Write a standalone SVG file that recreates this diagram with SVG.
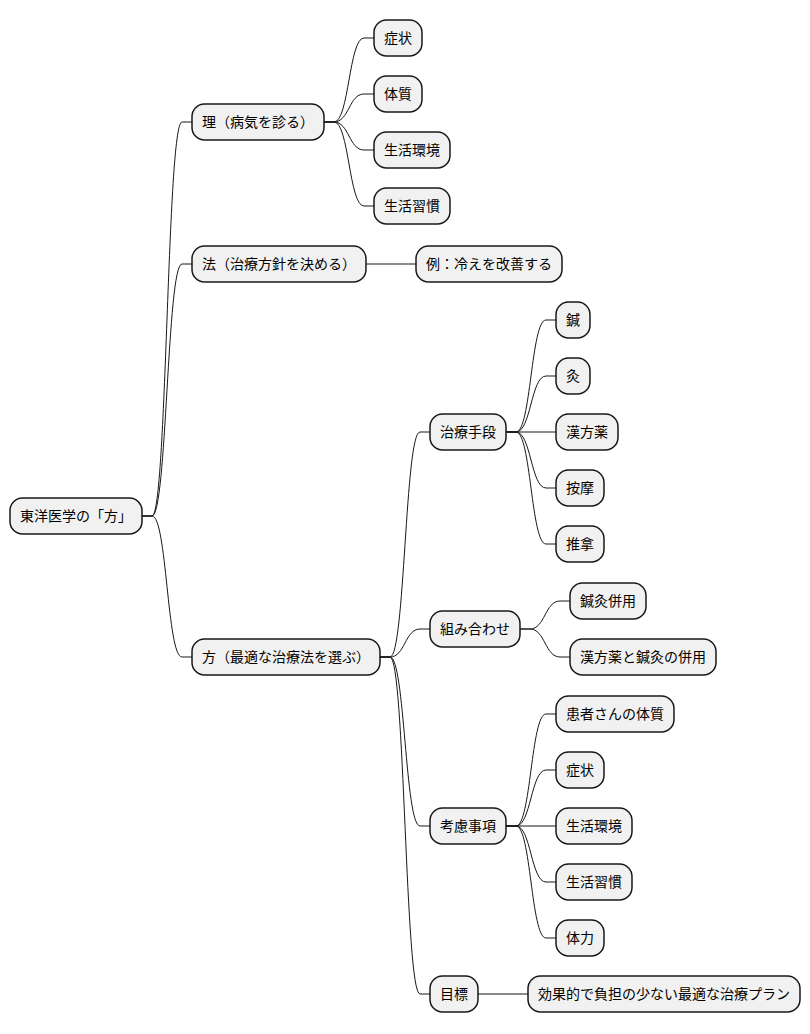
<svg xmlns="http://www.w3.org/2000/svg" width="810" height="1034" viewBox="0 0 810 1034">
<style>
.n rect{fill:#F1F1F1;stroke:#181818;stroke-width:1.5}
.n text{font-family:"Noto Sans CJK JP","Noto Sans CJK SC",sans-serif;font-size:14px;fill:#000000;text-anchor:middle}
#connectors path{fill:none;stroke:#181818;stroke-width:1}
</style>
<rect width="810" height="1034" fill="#FFFFFF"/>
<g id="connectors">
<path d="M142,516 L152,516 C167,516 167,122 182,122 L192,122"/>
<path d="M142,516 L152,516 C167,516 167,264 182,264 L192,264"/>
<path d="M142,516 L152,516 C167,516 167,657 182,657 L192,657"/>
<path d="M324,122 L334,122 C349,122 349,38 364,38 L374,38"/>
<path d="M324,122 L334,122 C349,122 349,94 364,94 L374,94"/>
<path d="M324,122 L334,122 C349,122 349,150 364,150 L374,150"/>
<path d="M324,122 L334,122 C349,122 349,206 364,206 L374,206"/>
<path d="M366,264 L416,264"/>
<path d="M380,657 L390,657 C405,657 405,432 420,432 L430,432"/>
<path d="M380,657 L390,657 C405,657 405,629 420,629 L430,629"/>
<path d="M380,657 L390,657 C405,657 405,826 420,826 L430,826"/>
<path d="M380,657 L390,657 C405,657 405,994 420,994 L430,994"/>
<path d="M506,432 L516,432 C531,432 531,320 546,320 L556,320"/>
<path d="M506,432 L516,432 C531,432 531,376 546,376 L556,376"/>
<path d="M506,432 L556,432"/>
<path d="M506,432 L516,432 C531,432 531,488 546,488 L556,488"/>
<path d="M506,432 L516,432 C531,432 531,544 546,544 L556,544"/>
<path d="M520,629 L530,629 C545,629 545,601 560,601 L570,601"/>
<path d="M520,629 L530,629 C545,629 545,657 560,657 L570,657"/>
<path d="M506,826 L516,826 C531,826 531,714 546,714 L556,714"/>
<path d="M506,826 L516,826 C531,826 531,770 546,770 L556,770"/>
<path d="M506,826 L556,826"/>
<path d="M506,826 L516,826 C531,826 531,882 546,882 L556,882"/>
<path d="M506,826 L516,826 C531,826 531,938 546,938 L556,938"/>
<path d="M478,994 L528,994"/>
</g>
<g id="root" class="n"><rect x="10" y="498" width="132" height="36" rx="12.5"/><text x="76" y="521">東洋医学の「方」</text></g>
<g id="ri" class="n"><rect x="192" y="104" width="132" height="36" rx="12.5"/><text x="258" y="127">理（病気を診る）</text></g>
<g id="ho" class="n"><rect x="192" y="246" width="174" height="36" rx="12.5"/><text x="279" y="269">法（治療方針を決める）</text></g>
<g id="hou" class="n"><rect x="192" y="639" width="188" height="36" rx="12.5"/><text x="286" y="662">方（最適な治療法を選ぶ）</text></g>
<g id="ri1" class="n"><rect x="374" y="20" width="48" height="36" rx="12.5"/><text x="398" y="43">症状</text></g>
<g id="ri2" class="n"><rect x="374" y="76" width="48" height="36" rx="12.5"/><text x="398" y="99">体質</text></g>
<g id="ri3" class="n"><rect x="374" y="132" width="76" height="36" rx="12.5"/><text x="412" y="155">生活環境</text></g>
<g id="ri4" class="n"><rect x="374" y="188" width="76" height="36" rx="12.5"/><text x="412" y="211">生活習慣</text></g>
<g id="ho1" class="n"><rect x="416" y="246" width="146" height="36" rx="12.5"/><text x="489" y="269">例：冷えを改善する</text></g>
<g id="h1" class="n"><rect x="430" y="414" width="76" height="36" rx="12.5"/><text x="468" y="437">治療手段</text></g>
<g id="h2" class="n"><rect x="430" y="611" width="90" height="36" rx="12.5"/><text x="475" y="634">組み合わせ</text></g>
<g id="h3" class="n"><rect x="430" y="808" width="76" height="36" rx="12.5"/><text x="468" y="831">考慮事項</text></g>
<g id="h4" class="n"><rect x="430" y="976" width="48" height="36" rx="12.5"/><text x="454" y="999">目標</text></g>
<g id="h1a" class="n"><rect x="556" y="302" width="34" height="36" rx="12.5"/><text x="573" y="325">鍼</text></g>
<g id="h1b" class="n"><rect x="556" y="358" width="34" height="36" rx="12.5"/><text x="573" y="381">灸</text></g>
<g id="h1c" class="n"><rect x="556" y="414" width="62" height="36" rx="12.5"/><text x="587" y="437">漢方薬</text></g>
<g id="h1d" class="n"><rect x="556" y="470" width="48" height="36" rx="12.5"/><text x="580" y="493">按摩</text></g>
<g id="h1e" class="n"><rect x="556" y="526" width="48" height="36" rx="12.5"/><text x="580" y="549">推拿</text></g>
<g id="h2a" class="n"><rect x="570" y="583" width="76" height="36" rx="12.5"/><text x="608" y="606">鍼灸併用</text></g>
<g id="h2b" class="n"><rect x="570" y="639" width="146" height="36" rx="12.5"/><text x="643" y="662">漢方薬と鍼灸の併用</text></g>
<g id="h3a" class="n"><rect x="556" y="696" width="118" height="36" rx="12.5"/><text x="615" y="719">患者さんの体質</text></g>
<g id="h3b" class="n"><rect x="556" y="752" width="48" height="36" rx="12.5"/><text x="580" y="775">症状</text></g>
<g id="h3c" class="n"><rect x="556" y="808" width="76" height="36" rx="12.5"/><text x="594" y="831">生活環境</text></g>
<g id="h3d" class="n"><rect x="556" y="864" width="76" height="36" rx="12.5"/><text x="594" y="887">生活習慣</text></g>
<g id="h3e" class="n"><rect x="556" y="920" width="48" height="36" rx="12.5"/><text x="580" y="943">体力</text></g>
<g id="h4a" class="n"><rect x="528" y="976" width="272" height="36" rx="12.5"/><text x="664" y="999">効果的で負担の少ない最適な治療プラン</text></g>
</svg>
